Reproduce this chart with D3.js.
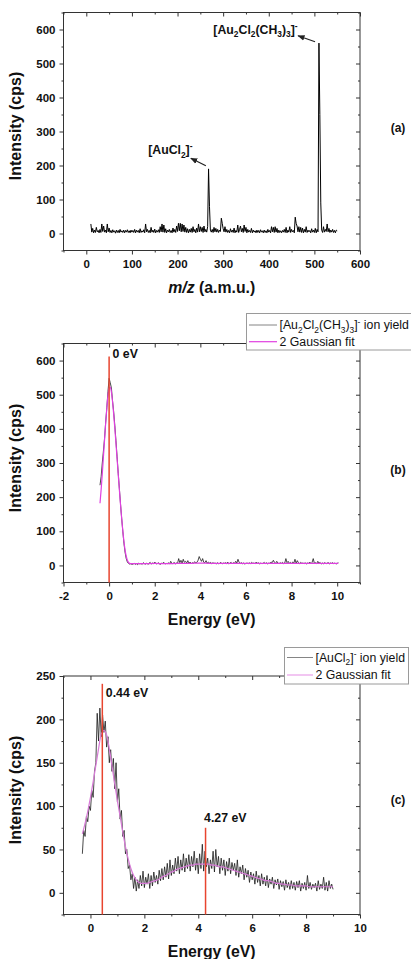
<!DOCTYPE html>
<html>
<head>
<meta charset="utf-8">
<script src="https://cdn.jsdelivr.net/npm/d3@7"></script>
<style>
  body { margin: 0; background: #fff; }
  text { font-family: "Liberation Sans", Arial, sans-serif; }
</style>
</head>
<body>
<svg id="fig" width="411" height="959"></svg>
<script>
// ---------- (a) mass spectrum: intensity on a 2 amu grid from m/z 10 ----------
const massStart = 10, massStep = 2;
const massIntensity = [
  28,4,15,2,10,3,18,5,9,2,
  12,3,28,6,22,4,10,2,28,5,
  16,3,9,2,11,4,8,1,10,3,
  9,2,12,4,8,3,10,2,9,4,
  11,3,8,2,10,4,9,3,12,2,
  10,4,9,2,14,3,8,4,11,2,
  28,5,12,3,9,2,18,4,10,3,
  13,2,9,4,11,3,20,5,28,4,
  25,3,14,2,10,5,12,3,9,2,
  16,4,12,3,22,6,30,8,30,5,
  28,6,25,4,18,3,14,2,12,4,
  15,3,20,5,12,2,16,4,28,5,
  20,6,18,3,22,5,12,4,20,190,
  80,10,4,12,3,18,5,15,4,12,
  3,10,6,45,30,14,5,20,4,12,
  3,9,2,14,4,10,3,16,2,9,
  4,25,3,12,22,5,15,3,25,6,
  18,2,12,4,9,3,15,2,10,4,
  8,2,10,3,9,2,11,4,8,2,
  10,3,8,2,12,4,9,2,20,5,
  18,3,20,4,15,2,10,3,8,2,
  9,4,12,3,18,2,10,4,20,3,
  12,5,9,2,48,30,22,5,20,4,
  18,3,16,2,12,4,20,3,10,5,
  9,2,14,4,10,3,15,2,12,5,
  560,350,90,10,3,20,4,12,6,28,
  5,15,3,10,4,12,3,9,2,10,
  8
];
// annotated peaks of the spectrum
const ionMass = [268, 510];
const ionIntensity = [190, 560];

// ---------- (b) [Au2Cl2(CH3)3]- ion yield, 0.05 eV grid from -0.4 eV ----------
const scanBStart = -0.4, scanBStep = 0.05;
const scanBIntensity = [
  235,260,300,335,372,420,462,510,548,535,520,482,450,410,365,318,270,225,180,138,
  100,65,38,20,10,6,4,5,3,
  4,6,3,5,2,7,4,6,3,8,5,4,7,3,6,9,4,7,5,10,
  6,4,8,5,3,7,6,9,4,6,5,8,4,12,6,5,9,4,7,6,
  20,8,15,6,18,9,12,7,14,6,10,5,8,6,11,7,9,15,26,18,
  12,20,9,8,14,6,10,7,9,5,8,6,7,4,8,5,6,9,4,7,
  6,8,5,10,4,7,9,5,8,6,12,7,18,9,6,8,5,7,4,6,
  7,5,8,4,9,6,7,5,10,6,8,4,7,5,6,9,5,8,4,7,
  6,10,8,15,9,6,12,7,5,8,6,9,5,7,20,8,12,6,9,5,
  10,7,18,6,14,8,5,9,6,7,5,8,4,7,6,10,5,9,20,6,
  8,5,12,6,9,4,7,5,8,6,5,9,4,7,6,8,5,7,4,6,
  8
];
const fitBEnergy = [-0.4,-0.35,-0.3,-0.25,-0.2,-0.15,-0.1,-0.05,0,0.05,0.1,0.15,0.2,0.25,0.3,0.35,0.4,0.45,0.5,0.55,0.6,0.65,0.7,0.75,0.8,0.85,0.9,0.95,1.0,
  1.5,2,2.5,3,3.5,4,4.5,5,5.5,6,6.5,7,7.5,8,8.5,9,9.5,10.05];
const fitBIntensity = [182,222,268,318,368,418,462,498,518,522,508,480,443,402,358,312,266,221,178,138,102,70,45,27,15,9,6,5,5,
  5,6,5,6,6,7,6,6,6,6,6,6,6,6,6,6,6,6];
const peakBEnergy = [0];
const peakBTop = [612];
const peakBLabel = ["0 eV"];

// ---------- (c) [AuCl2]- ion yield, 0.05 eV grid from -0.3 eV ----------
const scanCStart = -0.3, scanCStep = 0.05;
const scanCIntensity = [
  45,72,65,88,82,100,95,118,110,140,150,207,175,213,180,205,185,198,168,180,
  150,165,140,155,120,150,105,120,85,95,65,72,45,50,28,32,15,22,5,18,
  2,15,5,20,8,25,6,18,10,22,5,20,8,24,12,20,10,26,14,28,
  15,30,18,34,16,38,20,32,22,40,25,42,22,38,26,45,24,40,28,44,
  25,42,30,48,26,40,22,45,28,56,25,48,30,40,22,38,28,48,24,50,
  30,42,22,40,26,38,20,36,25,40,22,35,26,34,20,38,18,30,22,32,
  15,28,18,26,12,24,15,22,10,25,12,20,8,22,10,18,8,20,6,16,
  10,18,5,15,9,16,4,14,7,13,3,15,6,12,4,14,5,12,3,13,
  6,14,2,11,5,12,3,20,5,12,4,10,6,11,2,14,4,10,5,18,
  3,12,2,14,5,10,4
];
const fitCStart = -0.3, fitCStep = 0.1;
const fitCIntensity = [
  68,80,94,110,128,147,166,183,187,182,166,146,126,106,88,70,53,39,28,20,
  15,12,11,11,11,12,13,14,15,17,19,20,22,24,25,27,28,29,30,31,
  32,32,33,33,33,33,33,33,32,32,31,30,30,29,28,27,26,25,24,23,
  22,21,20,19,18,17,16,15,14,14,13,12,11,11,10,10,9,9,9,8,
  8,8,8,8,7,7,7,7,7,7,7,7,7,7
];
const peakCEnergy = [0.44, 4.27];
const peakCTop = [241, 75];
const peakCLabel = ["0.44 eV", "4.27 eV"];

// ---------- tick values ----------
const tickAX = [0,100,200,300,400,500,600];
const minorAX = [-50,50,150,250,350,450,550];
const tickAY = [0,100,200,300,400,500,600];
const minorAY = [-50,50,150,250,350,450,550,650];
const tickBX = [-2,0,2,4,6,8,10];
const minorBX = [-1,1,3,5,7,9,11];
const tickBY = [0,100,200,300,400,500,600];
const minorBY = [-50,50,150,250,350,450,550,650];
const tickCX = [0,2,4,6,8,10];
const minorCX = [-1,1,3,5,7,9];
const tickCY = [0,50,100,150,200,250];
const minorCY = [-25,25,75,125,175,225];

// ---------- drawing ----------
const svg = d3.select("#fig");
const L = 63.5, R = 360;
const INK = "#222", FRAME = "#333";
const RED = "#e8452f";

const defs = svg.append("defs");
defs.append("marker").attr("id", "arrow")
  .attr("viewBox", "0 0 10 10").attr("refX", 9).attr("refY", 5)
  .attr("markerWidth", 6).attr("markerHeight", 6).attr("orient", "auto")
  .append("path").attr("d", "M0,1 L10,5 L0,9 Z").attr("fill", INK);

// text with sub/superscript parts: [string, "n" | "sub" | "sup"]
function rich(t, parts, size) {
  let shift = 0;
  parts.forEach(([s, kind]) => {
    const target = kind === "sub" ? size * 0.3 : kind === "sup" ? -size * 0.38 : 0;
    const sp = t.append("tspan").text(s).attr("dy", target - shift);
    if (kind !== "n") sp.attr("font-size", size * 0.68);
    shift = target;
  });
  return t;
}

function panel(cfg) {
  const x = d3.scaleLinear().domain(cfg.xDomain).range([L, R]);
  const y = d3.scaleLinear().domain(cfg.yDomain).range([cfg.bottom, cfg.top]);
  const g = svg.append("g");
  const fmt = d => String(d);

  const styleAxis = sel => {
    sel.select(".domain").remove();
    sel.selectAll(".tick line").attr("stroke", FRAME);
    sel.selectAll(".tick text").attr("fill", "#111")
      .attr("font-size", 11.5).attr("font-weight", "bold")
      .attr("font-family", '"Liberation Sans", Arial, sans-serif');
  };

  // bottom / left: outward ticks with labels
  g.append("g").attr("transform", `translate(0,${cfg.bottom})`)
    .call(d3.axisBottom(x).tickValues(cfg.xTicks).tickSize(4).tickPadding(5).tickFormat(fmt)).call(styleAxis);
  g.append("g").attr("transform", `translate(0,${cfg.bottom})`)
    .call(d3.axisBottom(x).tickValues(cfg.xMinor).tickSize(2).tickFormat("")).call(styleAxis);
  g.append("g").attr("transform", `translate(${L},0)`)
    .call(d3.axisLeft(y).tickValues(cfg.yTicks).tickSize(4).tickPadding(4).tickFormat(fmt)).call(styleAxis);
  g.append("g").attr("transform", `translate(${L},0)`)
    .call(d3.axisLeft(y).tickValues(cfg.yMinor).tickSize(2).tickFormat("")).call(styleAxis);
  // top / right: inward mirrored ticks
  g.append("g").attr("transform", `translate(0,${cfg.top})`)
    .call(d3.axisTop(x).tickValues(cfg.xTicks).tickSize(-4).tickFormat("")).call(styleAxis);
  g.append("g").attr("transform", `translate(0,${cfg.top})`)
    .call(d3.axisTop(x).tickValues(cfg.xMinor).tickSize(-2).tickFormat("")).call(styleAxis);
  g.append("g").attr("transform", `translate(${R},0)`)
    .call(d3.axisRight(y).tickValues(cfg.yTicks).tickSize(-4).tickFormat("")).call(styleAxis);
  g.append("g").attr("transform", `translate(${R},0)`)
    .call(d3.axisRight(y).tickValues(cfg.yMinor).tickSize(-2).tickFormat("")).call(styleAxis);

  g.append("rect").attr("x", L).attr("y", cfg.top)
    .attr("width", R - L).attr("height", cfg.bottom - cfg.top)
    .attr("fill", "none").attr("stroke", FRAME).attr("stroke-width", 1);

  // axis titles
  g.append("text").attr("transform", `translate(21,${cfg.yTitleY}) rotate(-90)`)
    .attr("text-anchor", "middle").attr("font-size", 16).attr("font-weight", "bold")
    .attr("fill", "#111").text("Intensity (cps)");
  const xt = g.append("text").attr("x", (L + R) / 2).attr("y", cfg.xTitleY)
    .attr("text-anchor", "middle").attr("font-size", 15.8).attr("font-weight", "bold").attr("fill", "#111");
  cfg.xTitle(xt);

  // panel tag
  g.append("text").attr("x", 398).attr("y", cfg.tagY).attr("text-anchor", "middle")
    .attr("font-size", 12).attr("font-weight", "bold").attr("fill", "#111").text(cfg.tag);
  return { x, y, g };
}

// ===== (a) =====
{
  const p = panel({
    top: 12.5, bottom: 250.5, xDomain: [-50, 600], yDomain: [-50, 650],
    xTicks: tickAX, xMinor: minorAX, yTicks: tickAY, yMinor: minorAY,
    yTitleY: 126, xTitleY: 292.5, tagY: 132, tag: "(a)",
    xTitle: t => {
      t.append("tspan").attr("font-style", "italic").text("m/z");
      t.append("tspan").text(" (a.m.u.)");
    }
  });
  const pts = massIntensity.map((v, i) => [massStart + i * massStep, v]);
  p.g.append("path").datum(pts)
    .attr("d", d3.line().x(d => p.x(d[0])).y(d => p.y(d[1])))
    .attr("fill", "none").attr("stroke", "#000").attr("stroke-width", 1);

  // peak annotations
  const names = [
    [["[AuCl", "n"], ["2", "sub"], ["]", "n"], ["-", "sup"]],
    [["[Au", "n"], ["2", "sub"], ["Cl", "n"], ["2", "sub"], ["(CH", "n"], ["3", "sub"], [")", "n"], ["3", "sub"], ["]", "n"], ["-", "sup"]]
  ];
  const tail = [[-2.7, -3.2], [-3.9, -1.4]];
  const head = [[-17.7, -10.6], [-20.9, -7.4]];
  const textAt = [[-60.4, -14.9], [-105.6, -9.6]];
  ionMass.forEach((m, i) => {
    const px = p.x(m), py = p.y(ionIntensity[i]);
    p.g.append("line")
      .attr("x1", px + tail[i][0]).attr("y1", py + tail[i][1])
      .attr("x2", px + head[i][0]).attr("y2", py + head[i][1])
      .attr("stroke", INK).attr("stroke-width", 1.2).attr("marker-end", "url(#arrow)");
    const t = p.g.append("text").attr("x", px + textAt[i][0]).attr("y", py + textAt[i][1])
      .attr("font-size", 12.3).attr("font-weight", "bold").attr("fill", "#111");
    rich(t, names[i], 12.3);
  });
}

function energyTitle(t) { t.text("Energy (eV)"); }

function legend(g, box, rows) {
  g.append("rect").attr("x", box.x).attr("y", box.y).attr("width", box.w).attr("height", box.h)
    .attr("fill", "#fff").attr("stroke", "#9a9a9a").attr("stroke-width", 1);
  rows.forEach((r, i) => {
    const ly = box.y + box.row0 + i * box.rowGap;
    g.append("line").attr("x1", box.x + 2.5).attr("x2", box.x + box.sample)
      .attr("y1", ly).attr("y2", ly).attr("stroke", r.color).attr("stroke-width", r.width);
    const t = g.append("text").attr("x", box.x + box.sample + 2.5).attr("y", ly + 4.3)
      .attr("font-size", 12.3).attr("fill", "#111");
    rich(t, r.parts, 12.3);
  });
}

// ===== (b) =====
{
  const p = panel({
    top: 343.5, bottom: 582.5, xDomain: [-2, 11], yDomain: [-50, 650],
    xTicks: tickBX, xMinor: minorBX, yTicks: tickBY, yMinor: minorBY,
    yTitleY: 458, xTitleY: 625, tagY: 474, tag: "(b)", xTitle: energyTitle
  });
  const data = scanBIntensity.map((v, i) => [+(scanBStart + i * scanBStep).toFixed(3), v]);
  const fit = fitBEnergy.map((e, i) => [e, fitBIntensity[i]]);
  p.g.append("path").datum(data)
    .attr("d", d3.line().x(d => p.x(d[0])).y(d => p.y(d[1])))
    .attr("fill", "none").attr("stroke", "#1a1a1a").attr("stroke-width", 0.8);
  p.g.append("path").datum(fit)
    .attr("d", d3.line().curve(d3.curveMonotoneX).x(d => p.x(d[0])).y(d => p.y(d[1])))
    .attr("fill", "none").attr("stroke", "#e040e0").attr("stroke-width", 1.2);
  peakBEnergy.forEach((e, i) => {
    p.g.append("line").attr("x1", p.x(e)).attr("x2", p.x(e))
      .attr("y1", p.y(-50)).attr("y2", p.y(peakBTop[i]))
      .attr("stroke", RED).attr("stroke-width", 1.5);
    p.g.append("text").attr("x", p.x(e) + 3.5).attr("y", p.y(peakBTop[i]) + 2)
      .attr("font-size", 12.3).attr("font-weight", "bold").attr("fill", "#111").text(peakBLabel[i]);
  });
  legend(p.g, { x: 246.5, y: 313.5, w: 200, h: 36.5, row0: 11.5, rowGap: 16.7, sample: 30.5 }, [
    { color: "#777", width: 0.9, parts: [["[Au", "n"], ["2", "sub"], ["Cl", "n"], ["2", "sub"], ["(CH", "n"], ["3", "sub"], [")", "n"], ["3", "sub"], ["]", "n"], ["-", "sup"], [" ion yield", "n"]] },
    { color: "#e040e0", width: 1.2, parts: [["2 Gaussian fit", "n"]] }
  ]);
}

// ===== (c) =====
{
  const p = panel({
    top: 676, bottom: 914.5, xDomain: [-1, 10], yDomain: [-25, 250],
    xTicks: tickCX, xMinor: minorCX, yTicks: tickCY, yMinor: minorCY,
    yTitleY: 790, xTitleY: 956.5, tagY: 804, tag: "(c)", xTitle: energyTitle
  });
  const data = scanCIntensity.map((v, i) => [+(scanCStart + i * scanCStep).toFixed(3), v]);
  const fit = fitCIntensity.map((v, i) => [+(fitCStart + i * fitCStep).toFixed(3), v]);
  p.g.append("path").datum(data)
    .attr("d", d3.line().x(d => p.x(d[0])).y(d => p.y(d[1])))
    .attr("fill", "none").attr("stroke", "#1a1a1a").attr("stroke-width", 0.8);
  p.g.append("path").datum(fit)
    .attr("d", d3.line().curve(d3.curveMonotoneX).x(d => p.x(d[0])).y(d => p.y(d[1])))
    .attr("fill", "none").attr("stroke", "#d77ad7").attr("stroke-width", 1.2);
  const labelOffset = [[3.5, 13], [-1.5, -6]];
  peakCEnergy.forEach((e, i) => {
    p.g.append("line").attr("x1", p.x(e)).attr("x2", p.x(e))
      .attr("y1", p.y(-25)).attr("y2", p.y(peakCTop[i]))
      .attr("stroke", RED).attr("stroke-width", 1.5);
    p.g.append("text").attr("x", p.x(e) + labelOffset[i][0]).attr("y", p.y(peakCTop[i]) + labelOffset[i][1])
      .attr("font-size", 12.3).attr("font-weight", "bold").attr("fill", "#111").text(peakCLabel[i]);
  });
  legend(p.g, { x: 284.5, y: 647.5, w: 124, h: 36.5, row0: 10, rowGap: 17.5, sample: 28.5 }, [
    { color: "#777", width: 0.9, parts: [["[AuCl", "n"], ["2", "sub"], ["]", "n"], ["-", "sup"], [" ion yield", "n"]] },
    { color: "#eaa0ea", width: 1.2, parts: [["2 Gaussian fit", "n"]] }
  ]);
}
</script>
</body>
</html>
